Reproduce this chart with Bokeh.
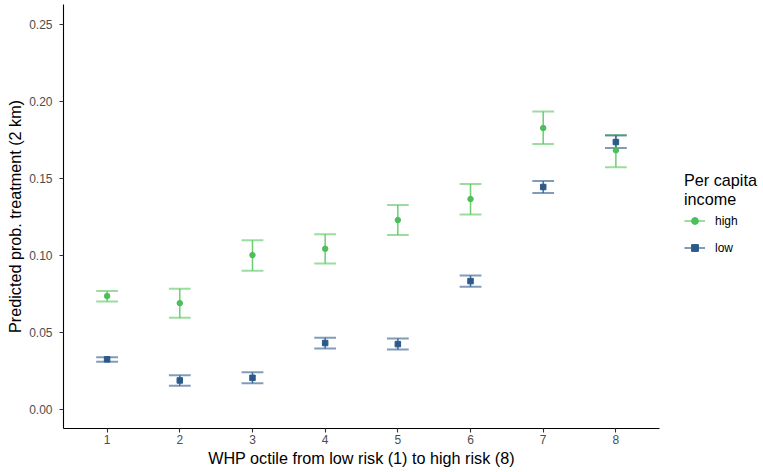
from bokeh.plotting import figure
from bokeh.models import (Range1d, FixedTicker, NumeralTickFormatter, Legend,
                          LegendItem, ColumnDataSource)
from bokeh.embed import file_html
from bokeh.resources import INLINE

# ---- data ----
octile = [1, 2, 3, 4, 5, 6, 7, 8]
high_est = [0.0734, 0.0688, 0.1000, 0.1041, 0.1227, 0.1364, 0.1825, 0.1680]
high_lo = [0.0699, 0.0593, 0.0898, 0.0946, 0.1130, 0.1264, 0.1721, 0.1571]
high_hi = [0.0766, 0.0781, 0.1097, 0.1136, 0.1325, 0.1461, 0.1933, 0.1779]
low_est = [0.0323, 0.0186, 0.0203, 0.0429, 0.0422, 0.0831, 0.1442, 0.1734]
low_lo = [0.0307, 0.0152, 0.0167, 0.0394, 0.0387, 0.0794, 0.1403, 0.1695]
low_hi = [0.0336, 0.0219, 0.0240, 0.0463, 0.0459, 0.0868, 0.1481, 0.1777]
x_ticks = [1, 2, 3, 4, 5, 6, 7, 8]
y_ticks = [0.0, 0.05, 0.10, 0.15, 0.20, 0.25]
series_labels = ["high", "low"]
legend_title = "Per capita\nincome"
x_title = "WHP octile from low risk (1) to high risk (8)"
y_title = "Predicted prob. treatment (2 km)"

GREEN = "#5DC863"
GREEN_PT = "#4DBF5A"
BLUE = "#33608F"
BLUE_PT = "#2B5A8A"
CAP_W = 0.3
FONT = "Liberation Sans"
TITLE_SIZE = "16.2px"
TEXT_SIZE = "12px"

p = figure(frame_width=596, frame_height=424,
           x_range=Range1d(0.4, 8.6), y_range=Range1d(-0.0126, 0.2627),
           output_backend="svg", toolbar_location=None,
           min_border_left=63, min_border_right=104,
           min_border_top=4, min_border_bottom=44)
p.outline_line_color = None
p.xgrid.visible = False
p.ygrid.visible = False
p.background_fill_color = "white"
p.border_fill_color = "white"


def make_src(est, lo, hi):
    return ColumnDataSource(dict(
        x=octile, est=est, lo=lo, hi=hi,
        xl=[v - CAP_W / 2 for v in octile],
        xr=[v + CAP_W / 2 for v in octile]))


src_h = make_src(high_est, high_lo, high_hi)
src_l = make_src(low_est, low_lo, low_hi)

renderers = {}
for name, src, col in [("high", src_h, GREEN), ("low", src_l, BLUE)]:
    v = p.segment(x0="x", x1="x", y0="lo", y1="hi", source=src,
                  line_color=col, line_width=1.5, line_alpha=0.9)
    c1 = p.segment(x0="xl", x1="xr", y0="hi", y1="hi", source=src,
                   line_color=col, line_width=2, line_alpha=0.62)
    c2 = p.segment(x0="xl", x1="xr", y0="lo", y1="lo", source=src,
                   line_color=col, line_width=2, line_alpha=0.62)
    renderers[name] = [v, c1, c2]

pt_h = p.scatter(x="x", y="est", source=src_h, marker="circle", size=5.5,
                 fill_color=GREEN_PT, line_color=GREEN_PT)
pt_l = p.scatter(x="x", y="est", source=src_l, marker="square", size=5.5,
                 fill_color=BLUE_PT, line_color=BLUE_PT)

# axes
for ax in (p.xaxis[0], p.yaxis[0]):
    ax.axis_line_color = "black"
    ax.axis_line_width = 1.1
    ax.major_tick_line_color = "#333333"
    ax.major_tick_line_width = 1.1
    ax.major_tick_out = 4
    ax.major_tick_in = 0
    ax.minor_tick_line_color = None
    ax.major_label_text_font = FONT
    ax.major_label_text_font_size = TEXT_SIZE
    ax.major_label_text_color = "#4D4D4D"
    ax.axis_label_text_font = FONT
    ax.axis_label_text_font_size = TITLE_SIZE
    ax.axis_label_text_font_style = "normal"
    ax.axis_label_text_color = "black"

p.xaxis.ticker = FixedTicker(ticks=x_ticks)
p.yaxis.ticker = FixedTicker(ticks=y_ticks)
p.yaxis.formatter = NumeralTickFormatter(format="0.00")
p.xaxis.axis_label = x_title
p.yaxis.axis_label = y_title
p.xaxis.major_label_standoff = 2
p.xaxis.axis_label_standoff = 2
p.yaxis.major_label_standoff = 7
p.yaxis.axis_label_standoff = 2

legend = Legend(items=[
    LegendItem(label=series_labels[0], renderers=[renderers["high"][1], pt_h]),
    LegendItem(label=series_labels[1], renderers=[renderers["low"][1], pt_l]),
], location=(25, 172))
legend.title = legend_title
legend.title_text_font = FONT
legend.title_text_font_size = TITLE_SIZE
legend.title_text_font_style = "normal"
legend.title_text_color = "black"
legend.title_standoff = 3
legend.label_text_font = FONT
legend.label_text_font_size = TEXT_SIZE
legend.label_text_color = "black"
legend.label_standoff = 10
legend.glyph_width = 21
legend.glyph_height = 17
legend.label_height = 17
legend.spacing = 10
legend.padding = 0
legend.margin = 0
legend.border_line_color = None
legend.background_fill_alpha = 0
p.add_layout(legend, "right")

open("out.html", "w").write(file_html(p, INLINE))
